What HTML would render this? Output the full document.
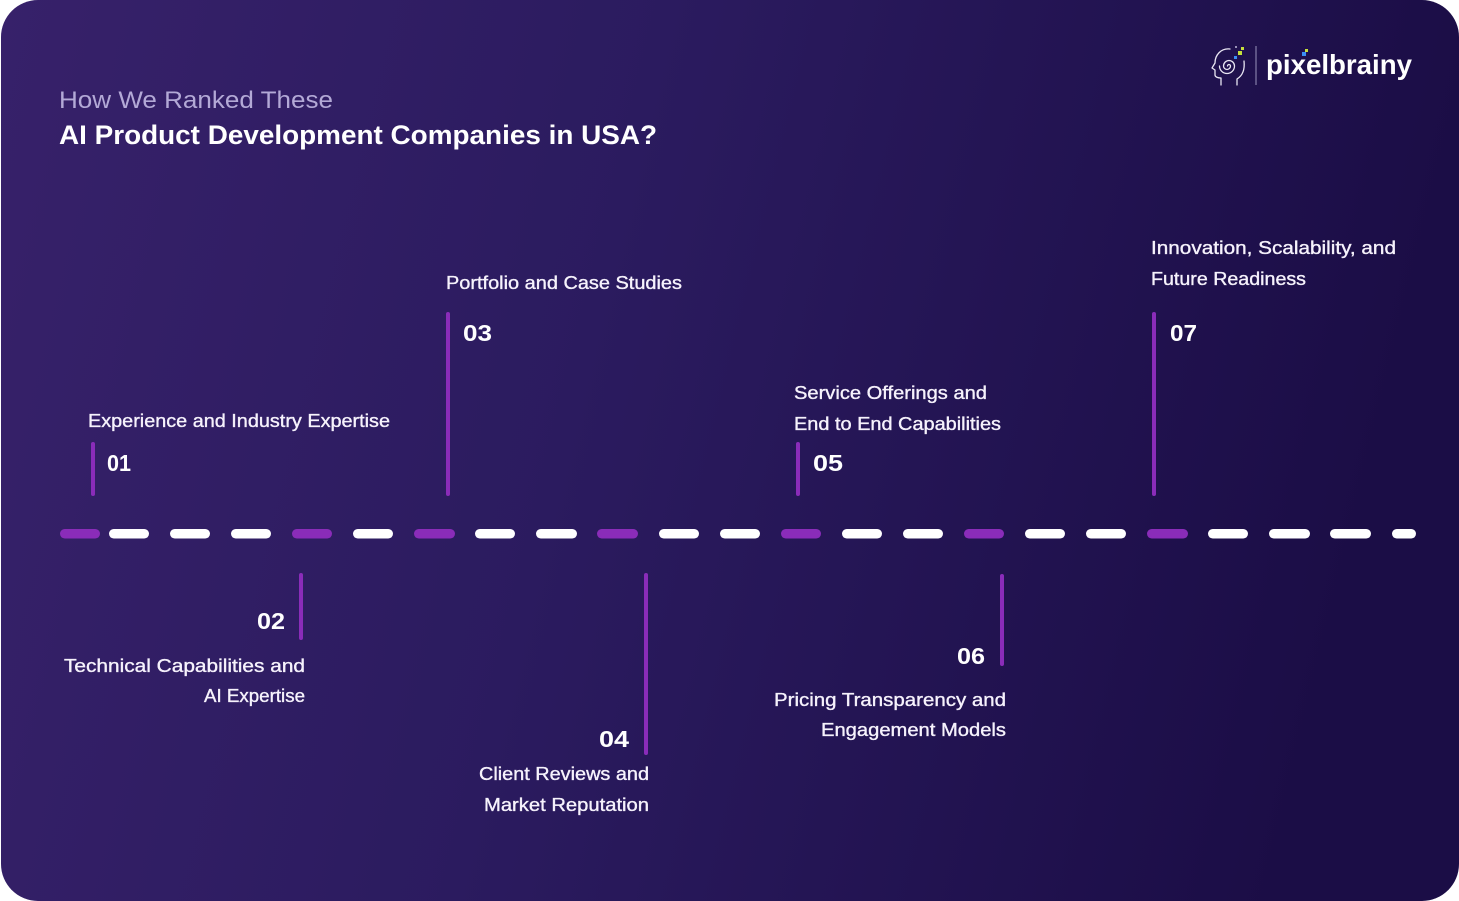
<!DOCTYPE html>
<html>
<head>
<meta charset="utf-8">
<style>
  html, body { margin: 0; padding: 0; background: #ffffff; }
  body { width: 1459px; height: 901px; overflow: hidden; }
  svg { display: block; }
  .lbl { font-family: "Liberation Sans", sans-serif; font-size: 18px; fill: #f6f2fc; stroke: #f6f2fc; stroke-width: 0.35px; }
  .num { font-family: "Liberation Sans", sans-serif; font-size: 23px; font-weight: bold; fill: #ffffff; }
</style>
</head>
<body>
<svg width="1459" height="901" viewBox="0 0 1459 901" xmlns="http://www.w3.org/2000/svg">
  <defs>
    <linearGradient id="bg" x1="0" y1="0" x2="1" y2="0.15">
      <stop offset="0" stop-color="#37216a"/>
      <stop offset="0.45" stop-color="#2b1b5f"/>
      <stop offset="1" stop-color="#1b0d46"/>
    </linearGradient>
  </defs>
  <rect x="1" y="0" width="1458" height="901" rx="37" ry="37" fill="url(#bg)"/>

  <!-- Header -->
  <text x="59" y="108" font-family="Liberation Sans, sans-serif" font-size="24" fill="#b3a9d6" textLength="274" lengthAdjust="spacingAndGlyphs">How We Ranked These</text>
  <text x="59" y="144" font-family="Liberation Sans, sans-serif" font-size="27" font-weight="bold" fill="#ffffff" textLength="598" lengthAdjust="spacingAndGlyphs">AI Product Development Companies in USA?</text>

  <!-- Logo -->
  <g fill="none" stroke="#e9e6f3" stroke-width="1.3" stroke-linecap="round" stroke-linejoin="round">
    <path d="M1230 49 C1221 48 1215 55 1215 63 L1212 68 L1215 70 L1215 75 C1215 77 1218 78 1221 78 L1221 85"/>
    <path d="M1244 61 C1245 70 1242 76 1237 79 L1237 85"/>
    <path d="M1229 66 m-1.5 0 a1.5 1.5 0 1 1 3 0 a3.5 3.5 0 1 1 -7 0 a5.5 5.5 0 1 1 11 0 a7.5 7.5 0 1 1 -15 0"/>
  </g>
  <rect x="1238" y="51" width="4" height="4" fill="#c6df3b"/>
  <rect x="1241" y="47" width="3" height="3" fill="#c6df3b"/>
  <rect x="1234" y="56" width="3" height="3" fill="#3b8ef5"/>
  <rect x="1235" y="46" width="2" height="2" fill="#9a93b8"/>
  <line x1="1256" y1="46" x2="1256" y2="85" stroke="#7e75a2" stroke-width="1.3"/>
  <text x="1266" y="74" font-family="Liberation Sans, sans-serif" font-size="28" font-weight="bold" fill="#ffffff" textLength="146" lengthAdjust="spacingAndGlyphs">pixelbrainy</text>
  <rect x="1305" y="49" width="3" height="3" fill="#c6df3b"/>
  <rect x="1302" y="52" width="4" height="4" fill="#3b8ef5"/>

  <!-- Dashed timeline -->
  <g>
    <rect x="60" y="529" width="40" height="9.5" rx="4.75" fill="#8a2cb9"/>
    <rect x="109" y="529" width="40" height="9.5" rx="4.75" fill="#ffffff"/>
    <rect x="170" y="529" width="40" height="9.5" rx="4.75" fill="#ffffff"/>
    <rect x="231" y="529" width="40" height="9.5" rx="4.75" fill="#ffffff"/>
    <rect x="292" y="529" width="40" height="9.5" rx="4.75" fill="#8a2cb9"/>
    <rect x="353" y="529" width="40" height="9.5" rx="4.75" fill="#ffffff"/>
    <rect x="414" y="529" width="41" height="9.5" rx="4.75" fill="#8a2cb9"/>
    <rect x="475" y="529" width="40" height="9.5" rx="4.75" fill="#ffffff"/>
    <rect x="536" y="529" width="41" height="9.5" rx="4.75" fill="#ffffff"/>
    <rect x="597" y="529" width="41" height="9.5" rx="4.75" fill="#8a2cb9"/>
    <rect x="659" y="529" width="40" height="9.5" rx="4.75" fill="#ffffff"/>
    <rect x="720" y="529" width="40" height="9.5" rx="4.75" fill="#ffffff"/>
    <rect x="781" y="529" width="40" height="9.5" rx="4.75" fill="#8a2cb9"/>
    <rect x="842" y="529" width="40" height="9.5" rx="4.75" fill="#ffffff"/>
    <rect x="903" y="529" width="40" height="9.5" rx="4.75" fill="#ffffff"/>
    <rect x="964" y="529" width="40" height="9.5" rx="4.75" fill="#8a2cb9"/>
    <rect x="1025" y="529" width="40" height="9.5" rx="4.75" fill="#ffffff"/>
    <rect x="1086" y="529" width="40" height="9.5" rx="4.75" fill="#ffffff"/>
    <rect x="1147" y="529" width="41" height="9.5" rx="4.75" fill="#8a2cb9"/>
    <rect x="1208" y="529" width="40" height="9.5" rx="4.75" fill="#ffffff"/>
    <rect x="1269" y="529" width="41" height="9.5" rx="4.75" fill="#ffffff"/>
    <rect x="1330" y="529" width="41" height="9.5" rx="4.75" fill="#ffffff"/>
    <rect x="1392" y="529" width="24" height="9.5" rx="4.75" fill="#ffffff"/>
  </g>

  <!-- Vertical bars -->
  <g fill="#8a2cb9">
    <rect x="91" y="442" width="4" height="54" rx="2"/>
    <rect x="446" y="312" width="4" height="184" rx="2"/>
    <rect x="796" y="442" width="4" height="54" rx="2"/>
    <rect x="1152" y="312" width="4" height="184" rx="2"/>
    <rect x="299" y="573" width="4" height="67" rx="2"/>
    <rect x="644" y="573" width="4" height="182" rx="2"/>
    <rect x="1000" y="574" width="4" height="92" rx="2"/>
  </g>

  <!-- 01 -->
  <text class="lbl" x="88" y="427" textLength="302" lengthAdjust="spacingAndGlyphs">Experience and Industry Expertise</text>
  <text class="num" x="107" y="471" textLength="24" lengthAdjust="spacingAndGlyphs">01</text>

  <!-- 03 -->
  <text class="lbl" x="446" y="289" textLength="236" lengthAdjust="spacingAndGlyphs">Portfolio and Case Studies</text>
  <text class="num" x="463" y="341" textLength="29" lengthAdjust="spacingAndGlyphs">03</text>

  <!-- 05 -->
  <text class="lbl" x="794" y="399" textLength="193" lengthAdjust="spacingAndGlyphs">Service Offerings and</text>
  <text class="lbl" x="794" y="430" textLength="207" lengthAdjust="spacingAndGlyphs">End to End Capabilities</text>
  <text class="num" x="813" y="471" textLength="30" lengthAdjust="spacingAndGlyphs">05</text>

  <!-- 07 -->
  <text class="lbl" x="1151" y="254" textLength="245" lengthAdjust="spacingAndGlyphs">Innovation, Scalability, and</text>
  <text class="lbl" x="1151" y="285" textLength="155" lengthAdjust="spacingAndGlyphs">Future Readiness</text>
  <text class="num" x="1170" y="341" textLength="27" lengthAdjust="spacingAndGlyphs">07</text>

  <!-- 02 -->
  <text class="num" x="257" y="629" textLength="28" lengthAdjust="spacingAndGlyphs">02</text>
  <text class="lbl" x="64" y="672" textLength="241" lengthAdjust="spacingAndGlyphs">Technical Capabilities and</text>
  <text class="lbl" x="204" y="702" textLength="101" lengthAdjust="spacingAndGlyphs">AI Expertise</text>

  <!-- 04 -->
  <text class="num" x="599" y="747" textLength="30" lengthAdjust="spacingAndGlyphs">04</text>
  <text class="lbl" x="479" y="780" textLength="170" lengthAdjust="spacingAndGlyphs">Client Reviews and</text>
  <text class="lbl" x="484" y="811" textLength="165" lengthAdjust="spacingAndGlyphs">Market Reputation</text>

  <!-- 06 -->
  <text class="num" x="957" y="664" textLength="28" lengthAdjust="spacingAndGlyphs">06</text>
  <text class="lbl" x="774" y="706" textLength="232" lengthAdjust="spacingAndGlyphs">Pricing Transparency and</text>
  <text class="lbl" x="821" y="736" textLength="185" lengthAdjust="spacingAndGlyphs">Engagement Models</text>
</svg>
</body>
</html>
